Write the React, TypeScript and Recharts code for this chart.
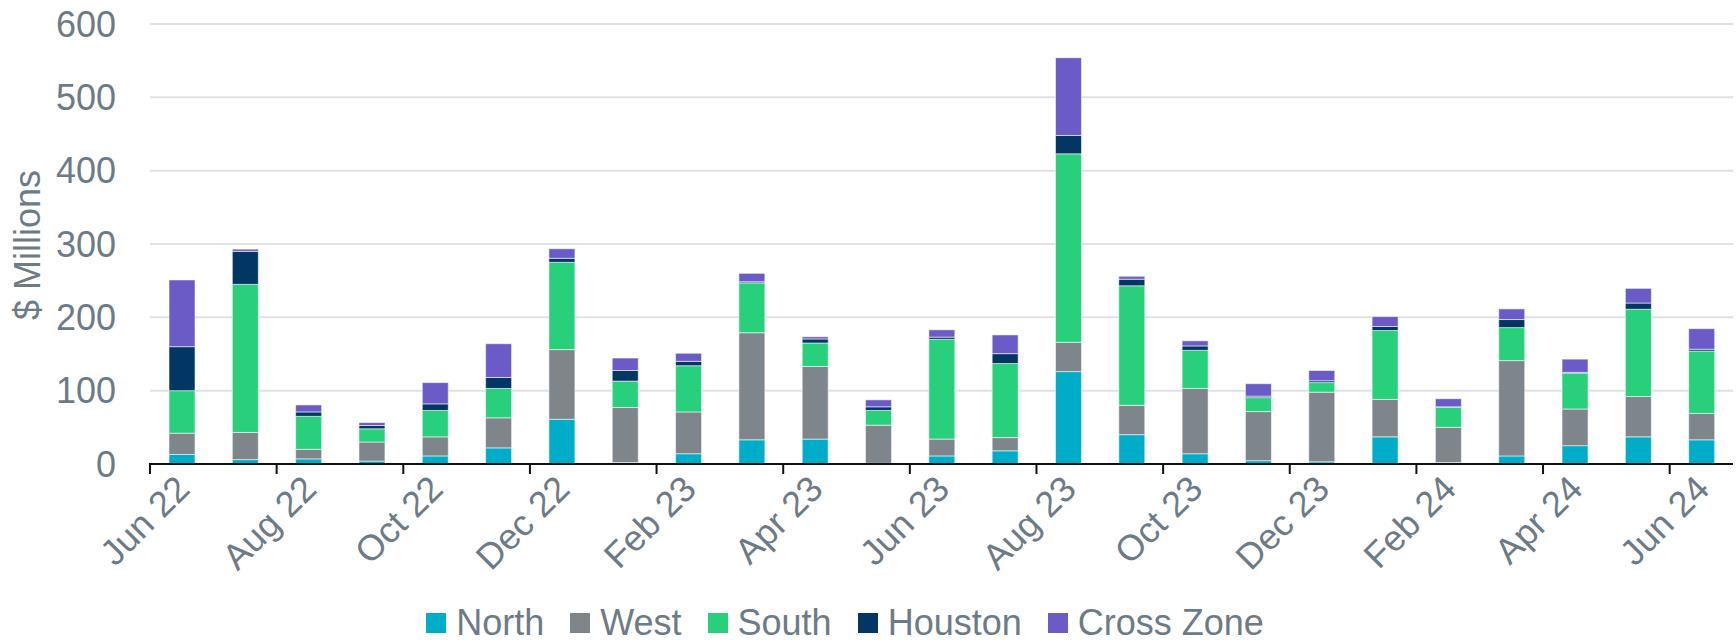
import React from "react";
import { BarChart, Bar, XAxis, YAxis, CartesianGrid, Label } from "recharts";

const months = [
  "Jun 22", "Jul 22", "Aug 22", "Sep 22", "Oct 22", "Nov 22", "Dec 22",
  "Jan 23", "Feb 23", "Mar 23", "Apr 23", "May 23", "Jun 23", "Jul 23",
  "Aug 23", "Sep 23", "Oct 23", "Nov 23", "Dec 23", "Jan 24", "Feb 24",
  "Mar 24", "Apr 24", "May 24", "Jun 24",
];
const north = [13, 6, 7, 4, 11, 22, 61, 2, 14, 33, 34, 1, 11, 18, 126, 40, 14, 4.5, 3, 37, 2, 11, 25, 37, 33];
const west = [29, 37, 13, 26, 26, 41, 95, 75, 57, 146, 99, 52, 23, 18, 40, 40, 89, 67, 95, 51, 48, 130, 50, 55, 36];
const south = [58, 202, 45, 18, 36, 40, 119, 36, 63, 68, 32, 20, 136, 101, 257, 163, 52, 19, 13, 94, 27, 45, 49, 119, 85];
const houston = [60, 45, 6, 4.5, 9, 15, 5.5, 14.5, 6, 1.5, 5.5, 5, 3, 13.5, 25, 9, 6, 2, 2.5, 5.5, 1, 11, 1, 8.5, 2.5];
const crossZone = [91, 3, 9.5, 4, 29, 46, 13, 17, 11, 11.5, 3, 9.5, 10, 25.5, 106, 4, 7, 17, 14, 13.5, 11, 14.5, 18, 20, 28];
const yTicks = [0, 100, 200, 300, 400, 500, 600];

const seriesNames = ["North", "West", "South", "Houston", "Cross Zone"];
const seriesKeys = ["north", "west", "south", "houston", "crossZone"];
const seriesColors = ["#00ADC8", "#7E858B", "#28D07C", "#023764", "#6B5BC7"];

const data = months.map((m, i) => ({
  month: m,
  north: north[i],
  west: west[i],
  south: south[i],
  houston: houston[i],
  crossZone: crossZone[i],
}));

const W = 1736;
const H = 640;
const PLOT_LEFT = 150;
const PLOT_RIGHT = 1733;
const BAND = (PLOT_RIGHT - PLOT_LEFT) / months.length;
const TEXT = "#6D7B86";
const FONT = "'Liberation Sans', Arial, sans-serif";

const XTick = (props: any) => {
  const { x, y, payload } = props;
  const ax = x + 10;
  const ay = y + 27;
  return (
    <g>
      <line x1={x - BAND / 2} x2={x - BAND / 2} y1={y - 1} y2={y + 10} stroke="#111" strokeWidth={2} />
      <text
        x={ax}
        y={ay}
        textAnchor="end"
        fill={TEXT}
        fontSize={36}
        fontFamily={FONT}
        transform={`rotate(-45, ${ax}, ${ay})`}
      >
        {payload.value}
      </text>
    </g>
  );
};

const YTitle = (props: any) => {
  const vb = props.viewBox || {};
  const cx = 27;
  const cy = (vb.y ?? 24) + (vb.height ?? 440) / 2 + 1;
  return (
    <text
      x={cx}
      y={cy}
      textAnchor="middle"
      dominantBaseline="central"
      fill={TEXT}
      fontSize={36}
      fontFamily={FONT}
      transform={`rotate(-90, ${cx}, ${cy})`}
    >
      $ Millions
    </text>
  );
};

export default function App() {
  return (
    <div style={{ position: "absolute", left: 0, top: 0, width: W, height: H, background: "#fff", fontFamily: FONT }}>
      <BarChart
        width={W}
        height={H}
        data={data}
        margin={{ top: 24, right: W - PLOT_RIGHT, bottom: 56, left: 0 }}
        barSize={26}
      >
        <CartesianGrid vertical={false} stroke="#DDE2E6" strokeWidth={2} />
        <XAxis
          dataKey="month"
          interval={1}
          height={120}
          tickLine={false}
          tickSize={0}
          tickMargin={0}
          axisLine={{ stroke: "#111", strokeWidth: 2 }}
          tick={<XTick />}
        />
        <YAxis
          width={PLOT_LEFT}
          domain={[0, 600]}
          ticks={yTicks}
          axisLine={false}
          tickLine={false}
          tickMargin={28}
          tick={{ fill: TEXT, fontSize: 36, fontFamily: FONT }}
        >
          <Label content={<YTitle />} />
        </YAxis>
        {seriesKeys.map((k, i) => (
          <Bar
            key={k}
            dataKey={k}
            name={seriesNames[i]}
            stackId="a"
            fill={seriesColors[i]}
            stroke="#ffffff"
            strokeOpacity={0.55}
            strokeWidth={1}
            isAnimationActive={false}
          />
        ))}
      </BarChart>
      <div
        style={{
          position: "absolute",
          top: 603,
          left: 0,
          width: 1690,
          display: "flex",
          justifyContent: "center",
          alignItems: "center",
          gap: 26,
          color: TEXT,
          fontSize: 36,
          fontFamily: FONT,
          lineHeight: "40px",
        }}
      >
        {seriesNames.map((n, i) => (
          <div key={n} style={{ display: "flex", alignItems: "center" }}>
            <span style={{ display: "inline-block", width: 20, height: 20, background: seriesColors[i], marginRight: 10 }} />
            <span>{n}</span>
          </div>
        ))}
      </div>
    </div>
  );
}
